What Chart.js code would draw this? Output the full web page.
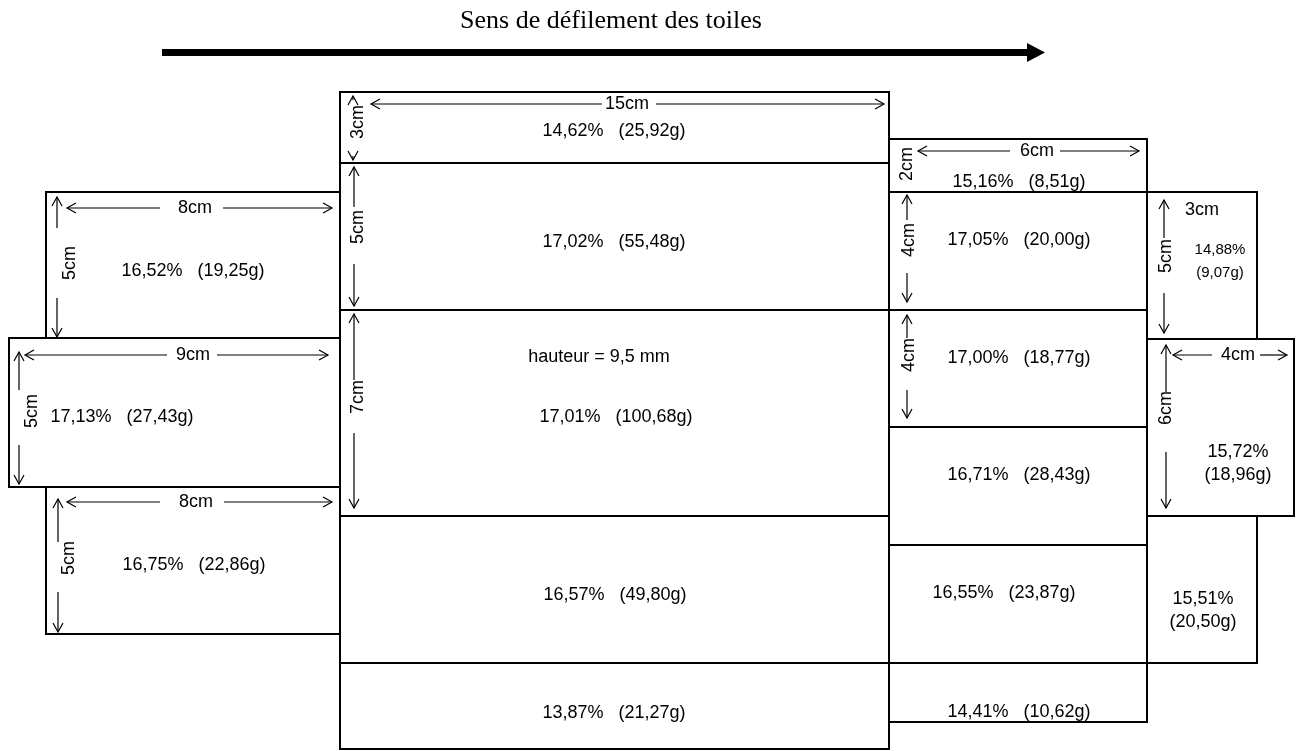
<!DOCTYPE html>
<html lang="fr">
<head>
<meta charset="utf-8">
<title>Sens de défilement des toiles</title>
<script src="https://cdn.jsdelivr.net/npm/chart.js@4.4.1/dist/chart.umd.min.js"></script>
<style>
    html, body { margin: 0; padding: 0; background: #fff; }
    #wrap { width: 1302px; height: 751px; }
</style>
</head>
<body>
<div id="wrap"><canvas id="toilesChart"></canvas></div>
<script>
// Panneaux : [gauche, haut, droite, bas] dans le repère du plan
const panelEdges = [
    [340, 92, 889, 163],
    [340, 163, 889, 310],
    [340, 310, 889, 516],
    [340, 516, 889, 663],
    [340, 663, 889, 749],
    [46, 192, 340, 338],
    [9, 338, 340, 487],
    [46, 487, 340, 634],
    [889, 139, 1147, 192],
    [889, 192, 1147, 310],
    [889, 310, 1147, 427],
    [889, 427, 1147, 545],
    [889, 545, 1147, 663],
    [889, 663, 1147, 722],
    [1147, 192, 1257, 339],
    [1147, 339, 1294, 516],
    [1147, 516, 1257, 663]
];
const panelPercents = ['14,62%', '17,02%', '17,01%', '16,57%', '13,87%', '16,52%', '17,13%', '16,75%',
    '15,16%', '17,05%', '17,00%', '16,71%', '16,55%', '14,41%', '14,88%', '15,72%', '15,51%'];
const panelMasses = ['(25,92g)', '(55,48g)', '(100,68g)', '(49,80g)', '(21,27g)', '(19,25g)', '(27,43g)', '(22,86g)',
    '(8,51g)', '(20,00g)', '(18,77g)', '(28,43g)', '(23,87g)', '(10,62g)', '(9,07g)', '(18,96g)', '(20,50g)'];
const labelX = [614, 614, 616, 615, 614, 193, 122, 194, 1019, 1019, 1019, 1019, 1004, 1019, 1220, 1238, 1203];
const labelY = [131, 242, 417, 595, 713, 271, 417, 565, 182, 240, 358, 475, 593, 712, 250, 452, 599];
const stackedLabel = [false, false, false, false, false, false, false, false,
    false, false, false, false, false, false, true, true, true];

// Cotes (flèches doubles)
const dimNames = ['15cm', '8cm', '9cm', '8cm', '6cm', '4cm', '3cm', '5cm', '7cm', '5cm', '5cm', '5cm', '4cm', '4cm', '5cm', '6cm'];
const dimStart = [[371, 104], [67, 208], [25, 355], [67, 502], [918, 151], [1173, 355], [353, 96], [354, 167],
    [354, 314], [57, 197], [19, 352], [58, 499], [907, 195], [907, 315], [1164, 200], [1166, 345]];
const dimEnd = [[884, 104], [332, 208], [328, 355], [332, 502], [1139, 151], [1287, 355], [353, 160], [354, 306],
    [354, 508], [57, 337], [19, 484], [58, 632], [907, 302], [907, 418], [1164, 333], [1166, 508]];
const dimGap = [[602, 656], [160, 223], [167, 217], [160, 224], [1010, 1060], [1212, 1260], [100, 156], [207, 264],
    [380, 433], [228, 298], [390, 445], [542, 592], [220, 273], [338, 390], [238, 293], [392, 452]];
const dimText = [[627, 104], [195, 208], [193, 355], [196, 502], [1037, 151], [1238, 355], [358, 122], [358, 227],
    [358, 397], [70, 263], [32, 411], [69, 558], [909, 240], [909, 355], [1166, 256], [1166, 408]];

// Textes libres
const noteTexts = ['2cm', '3cm', 'hauteur = 9,5 mm'];
const notePoints = [[907, 164], [1202, 210], [599, 357]];
const noteVertical = [true, false, false];

const titleText = 'Sens de défilement des toiles';
const flowStart = [162, 52.5];
const flowEnd = [1045, 52.5];

function rectDataset(edge) {
    const [l, t, r, b] = edge;
    return {
        data: [{ x: l, y: t }, { x: r, y: t }, { x: r, y: b }, { x: l, y: b }, { x: l, y: t }],
        showLine: true,
        borderColor: '#000',
        borderWidth: 2,
        borderCapStyle: 'square',
        borderJoinStyle: 'miter',
        pointRadius: 0,
        clip: false
    };
}

function segmentDataset(a, b, width) {
    return {
        data: [{ x: a[0], y: a[1] }, { x: b[0], y: b[1] }],
        showLine: true,
        borderColor: '#000',
        borderWidth: width,
        pointRadius: 0,
        clip: false
    };
}

function buildDatasets() {
    const sets = panelEdges.map(rectDataset);

    dimStart.forEach((start, i) => {
        const end = dimEnd[i];
        const gap = dimGap[i];
        if (start[1] === end[1]) {
            sets.push(segmentDataset(start, [gap[0], start[1]], 1.2));
            sets.push(segmentDataset([gap[1], end[1]], end, 1.2));
        } else {
            sets.push(segmentDataset(start, [start[0], gap[0]], 1.2));
            sets.push(segmentDataset([end[0], gap[1]], end, 1.2));
        }
    });

    sets.push(segmentDataset(flowStart, [flowEnd[0] - 18, flowEnd[1]], 7));
    return sets;
}

const diagramPlugin = {
    id: 'diagram',
    afterDatasetsDraw(chart) {
        const { ctx, scales: { x, y } } = chart;
        const px = v => x.getPixelForValue(v);
        const py = v => y.getPixelForValue(v);

        ctx.save();
        ctx.fillStyle = '#000';
        ctx.strokeStyle = '#000';

        // grande flèche
        ctx.beginPath();
        ctx.moveTo(px(flowEnd[0]), py(flowEnd[1]));
        ctx.lineTo(px(flowEnd[0] - 18), py(flowEnd[1] - 9.5));
        ctx.lineTo(px(flowEnd[0] - 18), py(flowEnd[1] + 9.5));
        ctx.closePath();
        ctx.fill();

        // titre
        ctx.font = '26px "Liberation Serif", "Times New Roman", serif';
        ctx.textAlign = 'center';
        ctx.textBaseline = 'alphabetic';
        ctx.fillText(titleText, px(611), py(28));

        // pointes des cotes
        ctx.lineWidth = 1.2;
        const head = (tx, ty, dx, dy) => {
            const len = 9, spread = 5;
            const bx = tx - dx * len, by = ty - dy * len;
            ctx.beginPath();
            ctx.moveTo(bx - dy * spread, by + dx * spread);
            ctx.lineTo(tx, ty);
            ctx.lineTo(bx + dy * spread, by - dx * spread);
            ctx.stroke();
        };
        dimStart.forEach((start, i) => {
            const end = dimEnd[i];
            const sx = px(start[0]), sy = py(start[1]);
            const ex = px(end[0]), ey = py(end[1]);
            const d = Math.hypot(ex - sx, ey - sy);
            const ux = (ex - sx) / d, uy = (ey - sy) / d;
            head(sx, sy, -ux, -uy);
            head(ex, ey, ux, uy);
        });

        // textes
        ctx.textBaseline = 'middle';
        ctx.textAlign = 'center';
        const bodyFont = size => size + 'px "Liberation Sans", Arial, sans-serif';

        const drawText = (text, tx, ty, vertical) => {
            if (vertical) {
                ctx.save();
                ctx.translate(tx, ty);
                ctx.rotate(-Math.PI / 2);
                ctx.fillText(text, 0, 0);
                ctx.restore();
            } else {
                ctx.fillText(text, tx, ty);
            }
        };

        ctx.font = bodyFont(18);
        dimNames.forEach((name, i) => {
            const vertical = dimStart[i][0] === dimEnd[i][0];
            drawText(name, px(dimText[i][0]), py(dimText[i][1]), vertical);
        });

        noteTexts.forEach((text, i) => {
            drawText(text, px(notePoints[i][0]), py(notePoints[i][1]), noteVertical[i]);
        });

        panelPercents.forEach((pct, i) => {
            const lx = px(labelX[i]);
            if (stackedLabel[i]) {
                ctx.font = bodyFont(i === 14 ? 15 : 18);
                ctx.fillText(pct, lx, py(labelY[i]));
                ctx.fillText(panelMasses[i], lx, py(labelY[i] + 23));
            } else {
                ctx.font = bodyFont(18);
                ctx.fillText(pct + '   ' + panelMasses[i], lx, py(labelY[i]));
            }
        });

        ctx.restore();
    }
};

function renderToilesChart() {
    const ctx = document.getElementById('toilesChart').getContext('2d');

    new Chart(ctx, {
        type: 'scatter',
        data: {
            datasets: buildDatasets()
        },
        options: {
            responsive: true,
            maintainAspectRatio: false,
            animation: false,
            layout: {
                padding: 0
            },
            scales: {
                x: {
                    type: 'linear',
                    min: 0,
                    max: 1302,
                    display: false
                },
                y: {
                    type: 'linear',
                    min: 0,
                    max: 751,
                    reverse: true,
                    display: false
                }
            },
            plugins: {
                legend: {
                    display: false
                },
                tooltip: {
                    enabled: false
                }
            }
        },
        plugins: [diagramPlugin]
    });
}

renderToilesChart();
</script>
</body>
</html>
